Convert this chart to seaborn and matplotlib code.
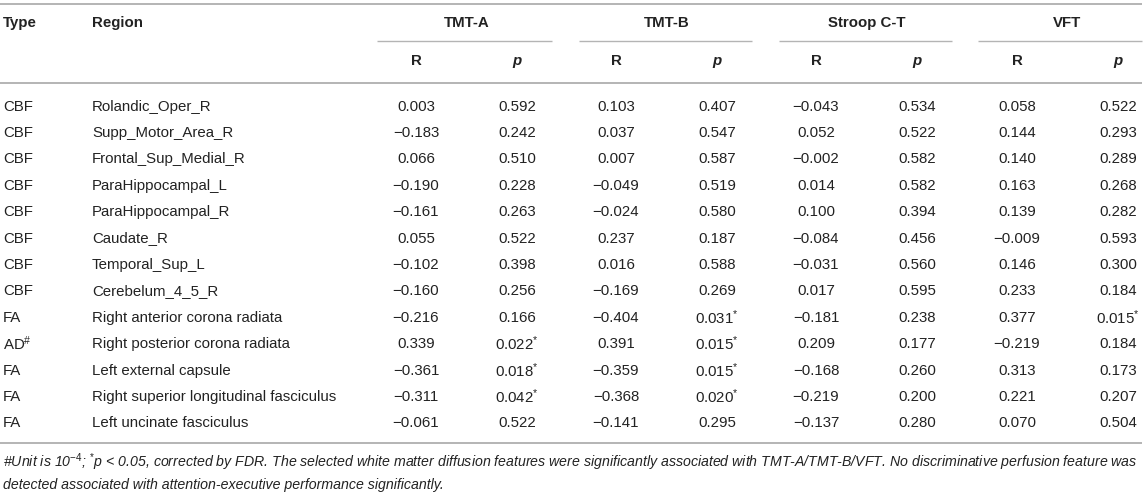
import matplotlib
matplotlib.use("Agg")
import matplotlib.pyplot as plt
import seaborn as sns

sns.set_theme(style="white")
plt.rcParams['font.family'] = ['Liberation Sans', 'DejaVu Sans']
plt.rcParams['mathtext.fontset'] = 'custom'
plt.rcParams['mathtext.rm'] = 'Liberation Sans'
plt.rcParams['mathtext.it'] = 'Liberation Sans:italic'
plt.rcParams['mathtext.bf'] = 'Liberation Sans:bold'

# ---------------- data ----------------
types = ["CBF", "CBF", "CBF", "CBF", "CBF", "CBF", "CBF", "CBF",
         "FA", "AD#", "FA", "FA", "FA"]
regions = ["Rolandic_Oper_R", "Supp_Motor_Area_R", "Frontal_Sup_Medial_R",
           "ParaHippocampal_L", "ParaHippocampal_R", "Caudate_R",
           "Temporal_Sup_L", "Cerebelum_4_5_R", "Right anterior corona radiata",
           "Right posterior corona radiata", "Left external capsule",
           "Right superior longitudinal fasciculus", "Left uncinate fasciculus"]
tests = ["TMT-A", "TMT-B", "Stroop C-T", "VFT"]

tmta_r = ["0.003", "−0.183", "0.066", "−0.190", "−0.161", "0.055", "−0.102",
          "−0.160", "−0.216", "0.339", "−0.361", "−0.311", "−0.061"]
tmta_p = ["0.592", "0.242", "0.510", "0.228", "0.263", "0.522", "0.398",
          "0.256", "0.166", "0.022*", "0.018*", "0.042*", "0.522"]
tmtb_r = ["0.103", "0.037", "0.007", "−0.049", "−0.024", "0.237", "0.016",
          "−0.169", "−0.404", "0.391", "−0.359", "−0.368", "−0.141"]
tmtb_p = ["0.407", "0.547", "0.587", "0.519", "0.580", "0.187", "0.588",
          "0.269", "0.031*", "0.015*", "0.015*", "0.020*", "0.295"]
stroop_r = ["−0.043", "0.052", "−0.002", "0.014", "0.100", "−0.084", "−0.031",
            "0.017", "−0.181", "0.209", "−0.168", "−0.219", "−0.137"]
stroop_p = ["0.534", "0.522", "0.582", "0.582", "0.394", "0.456", "0.560",
            "0.595", "0.238", "0.177", "0.260", "0.200", "0.280"]
vft_r = ["0.058", "0.144", "0.140", "0.163", "0.139", "−0.009", "0.146",
         "0.233", "0.377", "−0.219", "0.313", "0.221", "0.070"]
vft_p = ["0.522", "0.293", "0.289", "0.268", "0.282", "0.593", "0.300",
         "0.184", "0.015*", "0.184", "0.173", "0.207", "0.504"]

footnote1 = ("#Unit is 10$^{-4}$; $^{*}$p < 0.05, corrected by FDR. The selected white matter "
             "diffusion features were significantly associated with TMT-A/TMT-B/VFT. "
             "No discriminative perfusion feature was")
footnote2 = "detected associated with attention-executive performance significantly."

# ---------------- layout ----------------
W, H = 1145, 494
fig = plt.figure(figsize=(W / 100, H / 100), dpi=100)
ax = fig.add_axes([0, 0, 1, 1])
ax.set_xlim(0, W)
ax.set_ylim(H, 0)
ax.axis("off")

TXT = "#222222"
LINE = "#b4b4b4"
FS = 10.8
FS_NOTE = 10.2

x_type, x_region = 3, 92
group_start = [377, 579, 779, 978]
group_end = [552, 752, 952, 1142]
r_x = [416, 616, 816, 1017]
p_x = [517, 717, 917, 1118]

y_top, y_group, y_under, y_sub, y_head_line = 4, 23, 41, 61, 83
row0, dy = 105, 26.4
y_bottom = 443

def hline(y, x0, x1, lw):
    ax.plot([x0, x1], [y, y], color=LINE, lw=lw, solid_capstyle="butt")

hline(y_top, 0, 1142, 1.4)
hline(y_head_line, 0, 1142, 1.4)
hline(y_bottom, 0, 1142, 1.4)
for s, e in zip(group_start, group_end):
    hline(y_under, s, e, 1.0)

ax.text(x_type, y_group, "Type", fontsize=FS, fontweight="bold", color=TXT, va="center", ha="left")
ax.text(x_region, y_group, "Region", fontsize=FS, fontweight="bold", color=TXT, va="center", ha="left")
for i, t in enumerate(tests):
    cx = (r_x[i] + p_x[i]) / 2
    ax.text(cx, y_group, t, fontsize=FS, fontweight="bold", color=TXT, va="center", ha="center")
    ax.text(r_x[i], y_sub, "R", fontsize=FS, fontweight="bold", color=TXT, va="center", ha="center")
    ax.text(p_x[i], y_sub, "p", fontsize=FS, fontweight="bold", style="italic", color=TXT,
            va="center", ha="center")

def cell(x, y, s, ha="center"):
    if s.endswith("*"):
        s = s[:-1] + r"$^{\mathrm{*}}$"
    if s.endswith("#"):
        s = s[:-1] + r"$^{\mathrm{\#}}$"
    ax.text(x, y, s, fontsize=FS, color=TXT, va="center_baseline", ha=ha)

cols = [(tmta_r, tmta_p), (tmtb_r, tmtb_p), (stroop_r, stroop_p), (vft_r, vft_p)]
for j in range(len(regions)):
    y = row0 + dy * j
    cell(x_type, y, types[j], ha="left")
    cell(x_region, y, regions[j], ha="left")
    for i, (rv, pv) in enumerate(cols):
        cell(r_x[i], y, rv[j])
        cell(p_x[i], y, pv[j])

ax.text(x_type, 462, footnote1, fontsize=FS_NOTE, style="italic", color=TXT, va="center", ha="left")
ax.text(x_type, 485, footnote2, fontsize=FS_NOTE, style="italic", color=TXT, va="center", ha="left")

fig.savefig("out.png", dpi=100)
